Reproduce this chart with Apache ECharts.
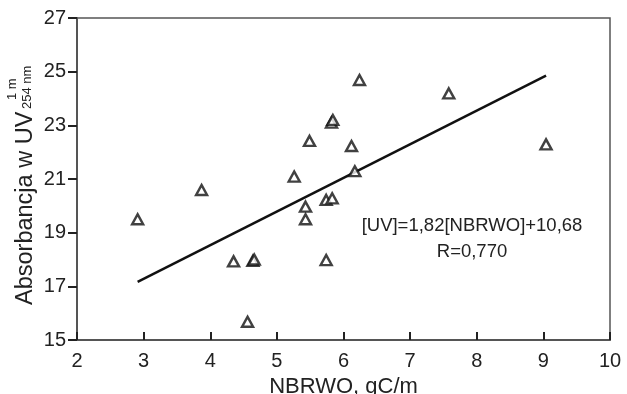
<!DOCTYPE html>
<html>
<head>
<meta charset="utf-8">
<script src="https://cdn.jsdelivr.net/npm/echarts@6/dist/echarts.min.js"></script>
<style>html,body{margin:0;padding:0;background:#fff}#c{width:627px;height:394px}</style>
</head>
<body>
<div id="c"></div>
<script>
// Data
var nbrwo = [2.91, 3.87, 4.35, 4.64, 4.66, 4.56, 5.26, 5.43, 5.43, 5.49, 5.74, 5.83, 5.74, 5.82, 5.84, 6.12, 6.17, 6.24, 7.58, 9.04];
var uv    = [19.50, 20.59, 17.93, 17.95, 18.00, 15.68, 21.09, 19.97, 19.50, 22.42, 20.22, 20.28, 17.98, 23.10, 23.20, 22.23, 21.29, 24.69, 24.19, 22.29];
var fitX = [2.91, 9.04];
var fitY = [17.17, 24.85];
var xTicks = [2, 3, 4, 5, 6, 7, 8, 9, 10];
var yTicks = [15, 17, 19, 21, 23, 25, 27];
var equationText = '[UV]=1,82[NBRWO]+10,68';
var rText = 'R=0,770';

var points = nbrwo.map(function (x, i) { return [x, uv[i]]; });
var fitLine = fitX.map(function (x, i) { return [x, fitY[i]]; });

var chart = echarts.init(document.getElementById('c'), null, { renderer: 'canvas' });
var font = 'Liberation Sans, Arial, Helvetica, sans-serif';
chart.setOption({
  animation: false,
  backgroundColor: '#fff',
  grid: { left: 77, right: 17, top: 18, bottom: 54, outerBoundsMode: 'none', containLabel: false, show: true, borderColor: '#555', borderWidth: 1.5, backgroundColor: 'transparent' },
  xAxis: {
    type: 'value', min: xTicks[0], max: xTicks[xTicks.length - 1], interval: 1,
    name: 'NBRWO, gC/m', nameLocation: 'middle', nameGap: 34,
    nameTextStyle: { fontFamily: font, fontSize: 22, color: '#222' },
    axisLine: { lineStyle: { color: '#555', width: 2 } },
    axisTick: { inside: true, length: 8, lineStyle: { color: '#222', width: 2 } },
    axisLabel: { margin: 11, fontFamily: font, fontSize: 20, color: '#222' },
    splitLine: { show: false }
  },
  yAxis: {
    type: 'value', min: yTicks[0], max: yTicks[yTicks.length - 1], interval: 2,
    axisLine: { show: true, lineStyle: { color: '#555', width: 2 } },
    axisTick: { show: true, inside: false, length: 9, lineStyle: { color: '#222', width: 2 } },
    axisLabel: { margin: 11, fontFamily: font, fontSize: 20, color: '#222' },
    splitLine: { show: false }
  },
  series: [
    {
      type: 'line', data: fitLine, symbol: 'none', z: 2,
      lineStyle: { color: '#111', width: 2.5 }
    },
    {
      type: 'scatter', data: points, symbol: 'triangle', symbolSize: [11, 10], z: 3,
      itemStyle: { color: '#fff', borderColor: '#111', borderWidth: 2.4 }
    }
  ],
  graphic: [
    { type: 'text', x: 472, y: 226, style: { text: equationText, fontFamily: font, fontSize: 18.5, fill: '#222', align: 'center', verticalAlign: 'middle' } },
    { type: 'text', x: 472, y: 252, style: { text: rText, fontFamily: font, fontSize: 18.5, fill: '#222', align: 'center', verticalAlign: 'middle' } },
    { type: 'text', x: 26, y: 305, rotation: Math.PI / 2, style: { text: 'Absorbancja w UV', fontFamily: font, fontSize: 23.5, fill: '#222', align: 'left', verticalAlign: 'middle' } },
    { type: 'text', x: 27, y: 109, rotation: Math.PI / 2, style: { text: '254 nm', fontFamily: font, fontSize: 13, fill: '#222', align: 'left', verticalAlign: 'middle' } },
    { type: 'text', x: 12, y: 100, rotation: Math.PI / 2, style: { text: '1 m', fontFamily: font, fontSize: 13, fill: '#222', align: 'left', verticalAlign: 'middle' } }
  ]
});
</script>
</body>
</html>
